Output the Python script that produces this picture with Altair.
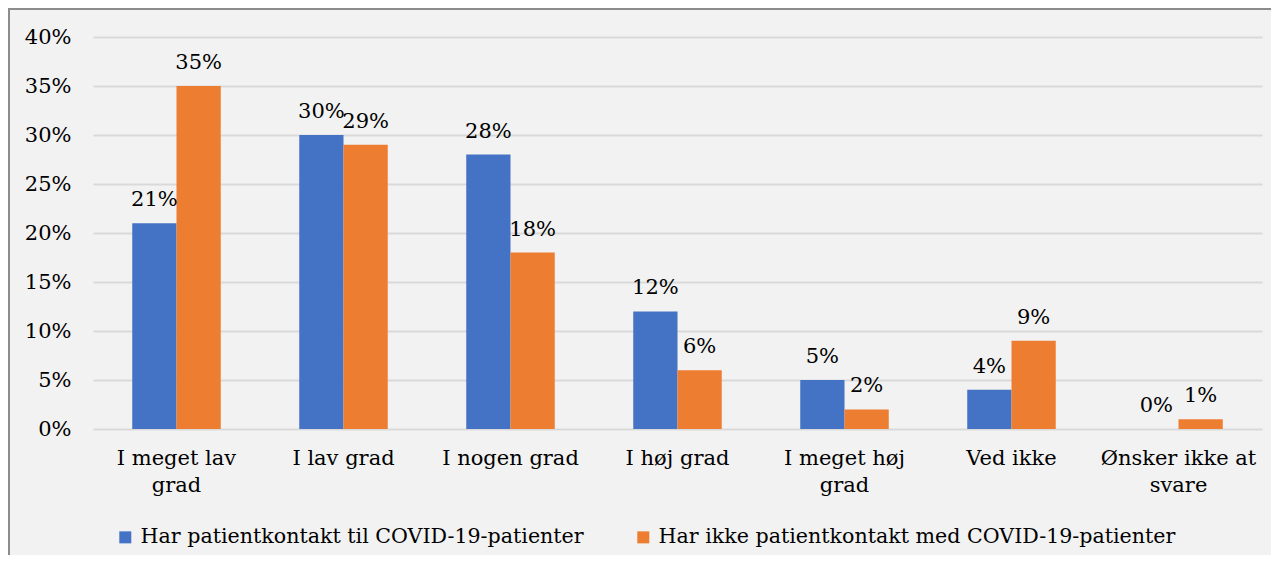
import altair as alt
import pandas as pd

categories = ["I meget lav grad", "I lav grad", "I nogen grad", "I høj grad",
              "I meget høj grad", "Ved ikke", "Ønsker ikke at svare"]
wrapped = {"I meget lav grad": ["I meget lav", "grad"],
           "I meget høj grad": ["I meget høj", "grad"],
           "Ønsker ikke at svare": ["Ønsker ikke at", "svare"]}
series = ["Har patientkontakt til COVID-19-patienter",
          "Har ikke patientkontakt med COVID-19-patienter"]
contact = [21, 30, 28, 12, 5, 4, 0]
no_contact = [35, 29, 18, 6, 2, 9, 1]
colors = ["#4472C4", "#ED7D31"]
y_ticks = [0, 5, 10, 15, 20, 25, 30, 35, 40]

rows = []
for c, a, b in zip(categories, contact, no_contact):
    rows.append({"cat": c, "series": series[0], "value": a, "label": f"{a}%"})
    rows.append({"cat": c, "series": series[1], "value": b, "label": f"{b}%"})
df = pd.DataFrame(rows)

FONT = "DejaVu Serif"
FS = 21
W, H = 1169, 392

parts = []
for k, v in wrapped.items():
    parts.append(f"datum.label == '{k}' ? ['{v[0]}', '{v[1]}']")
label_expr = " : ".join(parts) + " : datum.label"

x_enc = alt.X("cat:N", sort=categories,
              scale=alt.Scale(paddingInner=0.47, paddingOuter=0.235),
              axis=alt.Axis(title=None, labelAngle=0, labelExpr=label_expr,
                            labelFont=FONT, labelFontSize=FS, labelColor="#000000",
                            labelPadding=18, labelLineHeight=27,
                            ticks=False, domain=False, grid=False))
xo_enc = alt.XOffset("series:N", sort=series,
                     scale=alt.Scale(domain=series, paddingInner=0, paddingOuter=0))
y_scale = alt.Scale(domain=[0, 40])

bars = alt.Chart(df).mark_bar().encode(
    x=x_enc,
    xOffset=xo_enc,
    y=alt.Y("value:Q", scale=y_scale,
            axis=alt.Axis(title=None, values=y_ticks, labelExpr="datum.value + '%'",
                          labelFont=FONT, labelFontSize=FS, labelColor="#000000",
                          labelPadding=22, ticks=False, domain=False,
                          grid=True, gridColor="#d9d9d9", gridWidth=2)),
    color=alt.Color("series:N", sort=series,
                    scale=alt.Scale(domain=series, range=colors),
                    legend=alt.Legend(title=None, orient="none", legendX=22, legendY=490,
                                      direction="horizontal", symbolType="square",
                                      symbolSize=144, symbolStrokeWidth=0,
                                      labelFont=FONT, labelFontSize=20.6,
                                      labelColor="#000000", labelOffset=5,
                                      columnPadding=49, labelLimit=800)),
)

texts = alt.Chart(df).mark_text(font=FONT, fontSize=FS, baseline="bottom",
                                dy=-13, color="#000000").encode(
    x=alt.X("cat:N", sort=categories),
    xOffset=alt.XOffset("series:N", sort=series),
    y=alt.Y("value:Q", scale=y_scale),
    text="label:N",
)

frame_df = pd.DataFrame({"k": [0]})
frame = alt.Chart(frame_df).mark_rect(fill=None, stroke="#8c8c8c", strokeWidth=2).encode(
    x=alt.value(-84), x2=alt.value(W + 30), y=alt.value(-28), y2=alt.value(H + 200)
)

chart = alt.layer(frame, bars, texts).properties(
    width=W, height=H,
    padding={"left": 85, "top": 29, "right": 9, "bottom": 126},
    autosize=alt.AutoSizeParams(type="none"),
).configure(background="#F2F2F2").configure_view(stroke=None)

chart.save("out.html", embed_options={"renderer": "svg", "actions": False})
